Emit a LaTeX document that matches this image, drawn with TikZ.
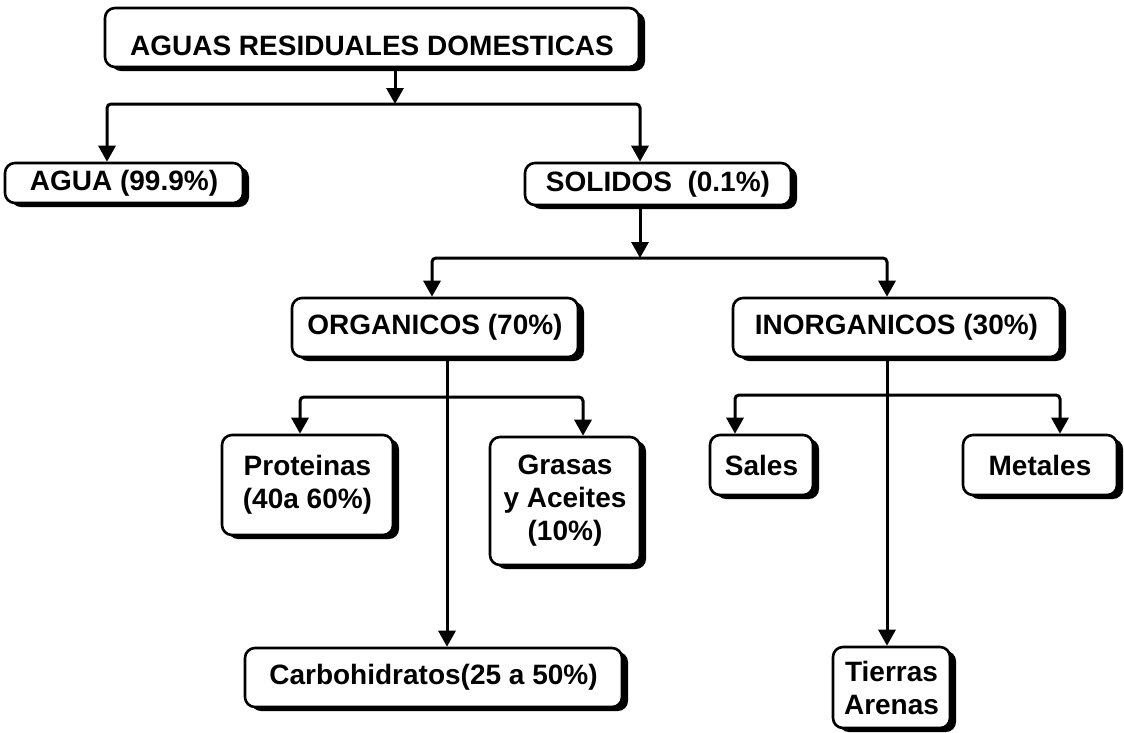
\documentclass[tikz,border=0pt]{standalone}
\usepackage{fontspec}
\setmainfont{Liberation Sans}
\usetikzlibrary{arrows.meta,shadows}
\begin{document}
\begin{tikzpicture}[x=1pt,y=-1pt,
  box/.style={draw=black, line width=2.6pt, fill=white, rounded corners=10pt,
    inner sep=2pt, align=center,
    font=\fontsize{28}{33}\selectfont\bfseries,
    drop shadow={shadow xshift=6pt, shadow yshift=-4pt, fill=black, opacity=1}},
  arr/.style={line width=3pt, -{Triangle[width=17pt,length=16pt]}, rounded corners=4pt}
]
\useasboundingbox (0,0) rectangle (1124,732);

% boxes
\node[box, minimum width=534pt, minimum height=59pt, text height=36pt, text depth=0pt] (top) at (372,37.5) {AGUAS RESIDUALES DOMESTICAS};
\node[box, minimum width=238pt, minimum height=40pt] (agua) at (124,183) {AGUA (99.9\%)};
\node[box, minimum width=266pt, minimum height=42pt] (sol) at (658,184) {SOLIDOS\ \ (0.1\%)};
\node[box, minimum width=286pt, minimum height=59pt] (org) at (435,327.5) {ORGANICOS (70\%)};
\node[box, minimum width=327pt, minimum height=59pt] (inorg) at (896.5,327.5) {INORGANICOS (30\%)};
\node[box, minimum width=171pt, minimum height=100pt] (prot) at (307.5,485) {Proteinas\\(40a 60\%)};
\node[box, minimum width=150pt, minimum height=128pt] (gras) at (565,501) {Grasas\\y Aceites\\(10\%)};
\node[box, minimum width=103pt, minimum height=60pt] (sales) at (761.5,465) {Sales};
\node[box, minimum width=154pt, minimum height=60pt] (met) at (1040,465) {Metales};
\node[box, minimum width=377pt, minimum height=59pt] (carbo) at (433.5,677.5) {Carbohidratos(25 a 50\%)};
\node[box, minimum width=117pt, minimum height=81pt] (tier) at (891.5,687.5) {Tierras\\Arenas};

% junction coordinates
\coordinate (j1) at (395,104);
\coordinate (xa) at (107,0);
\coordinate (xs) at (640,0);
\coordinate (j2) at (640,258);
\coordinate (xo) at (432,0);
\coordinate (xi) at (887,0);
\coordinate (j3) at (447,397);
\coordinate (xp) at (300,0);
\coordinate (xg) at (583,0);
\coordinate (j4) at (887,395);
\coordinate (xsa) at (735,0);
\coordinate (xm) at (1060,0);

% connectors
\draw[arr] (top.south -| j1) -- (j1);
\draw[arr] (j1) -| (agua.north -| xa);
\draw[arr] (j1) -| (sol.north -| xs);

\draw[arr] (sol.south -| j2) -- (j2);
\draw[arr] (j2) -| (org.north -| xo);
\draw[arr] (j2) -| (inorg.north -| xi);

\draw[arr] (org.south -| j3) -- (carbo.north -| j3);
\draw[arr] (j3) -| (prot.north -| xp);
\draw[arr] (j3) -| (gras.north -| xg);

\draw[arr] (inorg.south -| j4) -- (tier.north -| j4);
\draw[arr] (j4) -| (sales.north -| xsa);
\draw[arr] (j4) -| (met.north -| xm);
\end{tikzpicture}
\end{document}
